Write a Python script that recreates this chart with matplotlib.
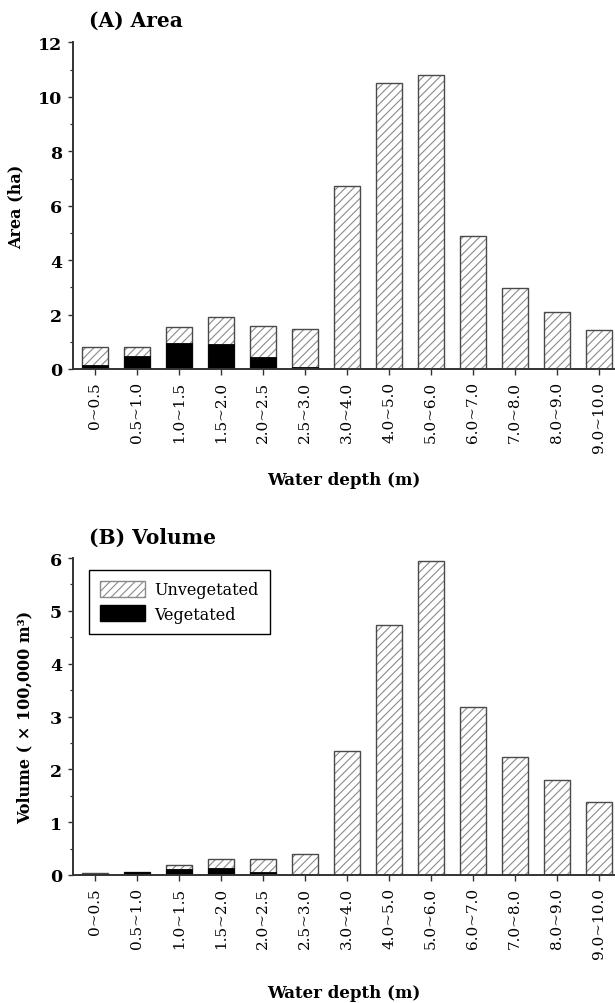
import matplotlib
matplotlib.use("Agg")
import matplotlib.pyplot as plt
from matplotlib.patches import Patch
from matplotlib.ticker import MultipleLocator

plt.rcParams["font.family"] = "DejaVu Serif"
plt.rcParams["hatch.linewidth"] = 0.8

depth_bins = ["0~0.5", "0.5~1.0", "1.0~1.5", "1.5~2.0", "2.0~2.5", "2.5~3.0",
              "3.0~4.0", "4.0~5.0", "5.0~6.0", "6.0~7.0", "7.0~8.0", "8.0~9.0",
              "9.0~10.0"]

# (A) area, ha
area_vegetated = [0.14, 0.48, 0.97, 0.93, 0.43, 0.07, 0, 0, 0, 0, 0, 0, 0]
area_unvegetated = [0.65, 0.32, 0.58, 0.98, 1.14, 1.41, 6.71, 10.50, 10.79,
                    4.88, 2.96, 2.10, 1.45]

# (B) volume, x 100,000 m3
volume_vegetated = [0.025, 0.06, 0.12, 0.13, 0.05, 0.01, 0, 0, 0, 0, 0, 0, 0]
volume_unvegetated = [0.005, 0.005, 0.07, 0.17, 0.26, 0.39, 2.35, 4.74, 5.94,
                      3.18, 2.23, 1.80, 1.39]

HATCH_GREY = "#8a8a8a"
EDGE_GREY = "#4a4a4a"
AXIS_GREY = "#333333"
BAR_W = 0.6


def draw_panel(ax, veg, unveg, ymax, major, minor, title, ylabel, ylabel_x,
               title_y, xlabel_y):
    x = range(len(depth_bins))
    totals = [v + u for v, u in zip(veg, unveg)]
    ax.bar(x, unveg, BAR_W, bottom=veg, color="white", edgecolor=HATCH_GREY,
           hatch="////", linewidth=0)
    ax.bar(x, totals, BAR_W, fill=False, edgecolor=EDGE_GREY, linewidth=1.0)
    ax.bar(x, veg, BAR_W, color="black", edgecolor="black", linewidth=0.6)

    ax.set_xlim(-0.53, 12.38)
    ax.set_ylim(0, ymax)
    ax.yaxis.set_major_locator(MultipleLocator(major))
    ax.yaxis.set_minor_locator(MultipleLocator(minor))
    ax.set_xticks(list(x))
    ax.set_xticklabels(depth_bins, rotation=90, fontsize=11, va="top")

    for side in ("top", "right"):
        ax.spines[side].set_visible(False)
    for side in ("left", "bottom"):
        ax.spines[side].set_color(AXIS_GREY)
        ax.spines[side].set_linewidth(1.4)

    ax.tick_params(axis="x", length=4.3, width=1.0, pad=4.3, color=AXIS_GREY)
    ax.tick_params(axis="y", which="major", length=3.6, width=1.0, pad=4.0,
                   color=AXIS_GREY, labelsize=12.5)
    ax.tick_params(axis="y", which="minor", length=2.0, width=0.9,
                   color=AXIS_GREY)
    for lab in ax.get_yticklabels():
        lab.set_fontweight("bold")

    ax.set_ylabel(ylabel, fontsize=11.5, fontweight="bold")
    ax.yaxis.set_label_coords(ylabel_x, 0.5)
    ax.text(0.03, title_y, title, transform=ax.transAxes, fontsize=14.5,
            fontweight="bold", ha="left", va="baseline")
    ax.text(0.5, xlabel_y, "Water depth (m)", transform=ax.transAxes,
            fontsize=12, fontweight="bold", ha="center", va="baseline")


fig = plt.figure(figsize=(6.15, 10.04), dpi=100)
ax_a = fig.add_axes([0.1182, 0.6315, 0.8818, 0.3252])
ax_b = fig.add_axes([0.1182, 0.1275, 0.8818, 0.3157])

draw_panel(ax_a, area_vegetated, area_unvegetated, 12, 2, 1, "(A) Area",
           "Area (ha)", -0.088, 1.0505, -0.352)
draw_panel(ax_b, volume_vegetated, volume_unvegetated, 6, 1, 0.5, "(B) Volume",
           "Volume ( \u00d7 100,000 m\u00b3)", -0.073, 1.047, -0.385)

handles = [
    Patch(facecolor="white", edgecolor=HATCH_GREY, hatch="////",
          label="Unvegetated"),
    Patch(facecolor="black", edgecolor="black", label="Vegetated"),
]
leg = ax_b.legend(handles=handles, loc="upper left",
                  bbox_to_anchor=(0.03, 0.963), borderaxespad=0,
                  fontsize=11.5, handlelength=2.8, handleheight=1.15,
                  handletextpad=0.57, labelspacing=0.44, borderpad=0.7,
                  fancybox=False, framealpha=1)
leg.get_frame().set_edgecolor("black")
leg.get_frame().set_linewidth(1.0)

fig.savefig("out.png", dpi=100)
